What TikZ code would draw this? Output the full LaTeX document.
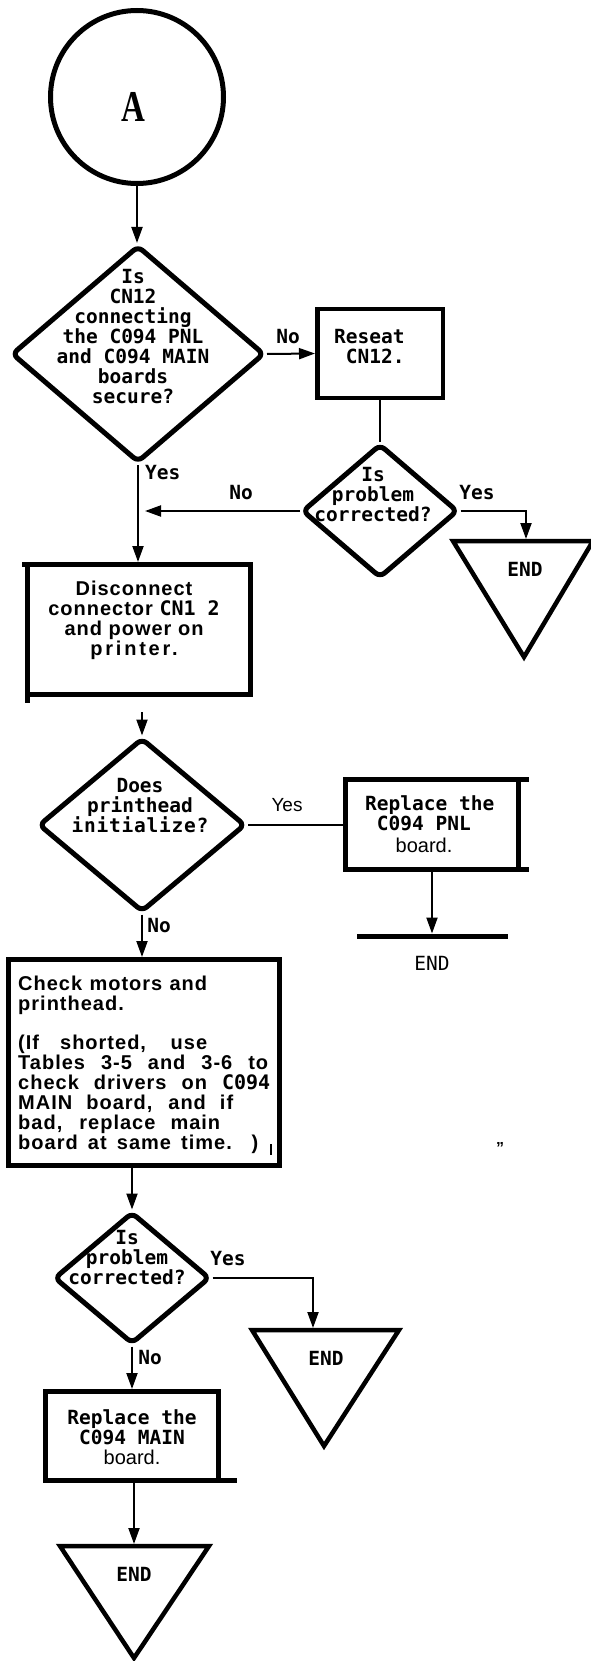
\documentclass[tikz,border=0pt]{standalone}
\usepackage{fontspec}
\usetikzlibrary{shapes.geometric,arrows.meta}
\setmainfont{Liberation Sans}
\newfontfamily\monofam{DejaVu Sans Mono}
\newfontfamily\boxfam{Liberation Sans}[LetterSpace=5]
\newfontfamily\seriffam{Liberation Serif}
\newcommand\mb{\monofam\bfseries}
\tikzset{
  dia/.style={shape=diamond, draw, line width=5pt, rounded corners=6pt, inner sep=0pt},
  boxn/.style={draw, rectangle, line width=5pt, inner sep=0pt},
  tri/.style={draw, line width=4.5pt, line join=miter},
  conn/.style={line width=2pt},
  arr/.style={conn, -{Triangle[length=16pt,width=11pt]}},
  mt/.style={font=\mb\fontsize{19.5}{20}\selectfont, inner sep=0pt, align=center},
  mtl/.style={font=\mb\fontsize{19.5}{20}\selectfont, inner sep=0pt, align=left},
  st/.style={font=\boxfam\bfseries\fontsize{20}{19.9}\selectfont, inner sep=0pt},
  lab/.style={font=\mb\fontsize{19.5}{20}\selectfont, inner sep=0pt},
  endt/.style={font=\mb\fontsize{19.5}{20}\selectfont, inner sep=0pt},
}
\begin{document}
\begin{tikzpicture}[x=1pt,y=-1pt]
\useasboundingbox (0,0) rectangle (591,1661);

% start circle
\node[circle, draw, line width=5pt, minimum size=173pt, inner sep=0pt] (a) at (137,97) {};
\node[inner sep=0pt, font=\seriffam\bfseries\fontsize{44}{44}\selectfont] (lA) at (133,107) {\scalebox{0.75}[1]{A}};

% diamond 1
\node[dia, minimum width=253pt, minimum height=217pt] (d1) at (138,354) {};
\node[mt] (t1) at (133,337) {Is\\CN12\\connecting\\the C094 PNL\\and C094 MAIN\\boards\\secure?};

% reseat box
\node[boxn, line width=4.5pt, minimum width=125.5pt, minimum height=88.5pt] (rs) at (380,353.5) {};
\node[mtl, anchor=west] (trs) at (334,347) {Reseat\\\hspace*{11.74pt}CN12.};

% diamond 2
\node[dia, minimum width=156pt, minimum height=134pt] (d2) at (380,511) {};
\node[mt] (t2) at (373,495) {Is\\problem\\corrected?};

% end triangle 1
\draw[tri] (453,541) -- (593,541) -- (524,657) -- cycle;
\coordinate (e1) at (526,539);
\node[endt] (te1) at (525,569) {END};

% disconnect box
\node[boxn, minimum width=223pt, minimum height=130pt] (disc) at (139,629.5) {};
\draw[line width=5pt] (27.5,694) -- (27.5,703);
\draw[line width=5pt] (22,564.5) -- (30,564.5);
\node[st, align=center] (tdisc) at (134,620) {Disconnect\\connector {\mb CN1 2}\\and power on\\{\addfontfeature{LetterSpace=14}printer.}};

% diamond 3
\node[dia, minimum width=207pt, minimum height=174pt] (d3) at (142,825) {};
\node[mt] (t3) at (140,806) {Does\\printhead\\{\addfontfeature{LetterSpace=4}initialize?}};

% replace PNL box
\node[boxn, minimum width=173pt, minimum height=90pt] (pnl) at (432,824.5) {};
\draw[line width=5pt] (518,779.5) -- (529,779.5);
\draw[line width=5pt] (518,869.5) -- (529,869.5);
\node[mtl, anchor=west] (tpnl) at (365,813) {Replace the\\\hspace*{11.74pt}C094 PNL};
\node[font=\fontsize{20}{20}\selectfont, inner sep=0pt] (tpnl2) at (424,845) {board.};

% END line
\draw[line width=5pt] (357,936) -- (508,936);
\coordinate (el) at (432,933.5);
\node[font=\monofam\fontsize{19.5}{20}\selectfont, inner sep=0pt] (tel) at (432,963) {END};

% check box
\node[boxn, minimum width=271pt, minimum height=206pt] (chk) at (144,1062.5) {};
\node[st, align=left, anchor=north west] (tchk) at (18,975.5) {%
\makebox[189pt][s]{Check motors and}\\
printhead.\\[19.9pt]
\makebox[189pt][s]{(If shorted, use}\\
\makebox[250pt][s]{Tables 3-5 and 3-6 to}\\
\makebox[252pt][s]{check drivers on {\mb C094}}\\
\makebox[215pt][s]{MAIN board, and if}\\
\makebox[202pt][s]{bad, replace main}\\
\makebox[240pt][s]{board at same time. )}};
\draw[line width=2.5pt] (271,1144) -- (271,1155);
\node[font=\fontsize{16}{16}\selectfont\bfseries, inner sep=0pt] (q) at (500,1148) {”};

% diamond 4
\node[dia, minimum width=156pt, minimum height=132pt] (d4) at (132,1278) {};
\node[mt] (t4) at (127,1258) {Is\\problem\\corrected?};

% end triangle 2
\draw[tri] (252,1330) -- (399,1330) -- (324,1446) -- cycle;
\coordinate (e2) at (313,1328);
\node[endt] (te2) at (326,1358) {END};

% replace MAIN box
\node[boxn, minimum width=173pt, minimum height=89pt] (mainb) at (132,1436) {};
\draw[line width=5pt] (218,1480.5) -- (237,1480.5);
\node[mt] (tmain) at (132,1437) {Replace the\\C094 MAIN\\{\normalfont\mdseries\fontsize{20}{20}\selectfont board.}};

% end triangle 3
\draw[tri] (60,1546) -- (209,1546) -- (134,1658) -- cycle;
\coordinate (e3) at (134,1544);
\node[endt] (te3) at (134,1574) {END};

% labels
\node[lab] (l1) at (288,337) {No};
\node[lab, anchor=west] (l2) at (145,473) {Yes};
\node[lab] (l3) at (241,493) {No};
\node[lab] (l4) at (477,493) {Yes};
\node[font=\fontsize{19}{20}\selectfont, inner sep=0pt] (l5) at (287,805) {Yes};
\node[lab] (l6) at (159,926) {No};
\node[lab] (l7) at (228,1259) {Yes};
\node[lab] (l8) at (150,1358) {No};

% connectors
\coordinate (j) at (145,511);
\draw[arr] (a.south) -- (a.south |- d1.north);
\draw[arr] (d1.east) -- (rs.west);
\draw[conn] (rs.south) -- (d2.north);
\draw[arr] (d2.west) -- (j);
\draw[arr] (d2.east) -| (e1);
\draw[arr] (d1.south) -- (d1.south |- disc.north);
\draw[arr, shorten <=15pt] (disc.south -| d3.north) -- (d3.north);
\draw[conn] (d3.east) -- (d3.east -| pnl.west);
\draw[arr] (pnl.south) -- (el);
\draw[arr] (d3.south) -- (d3.south |- chk.north);
\draw[arr] (chk.south -| d4.north) -- (d4.north);
\draw[arr] (d4.east) -| (e2);
\draw[arr] (d4.south) -- (d4.south |- mainb.north);
\draw[arr] (mainb.south -| e3) -- (e3);
\end{tikzpicture}
\end{document}
